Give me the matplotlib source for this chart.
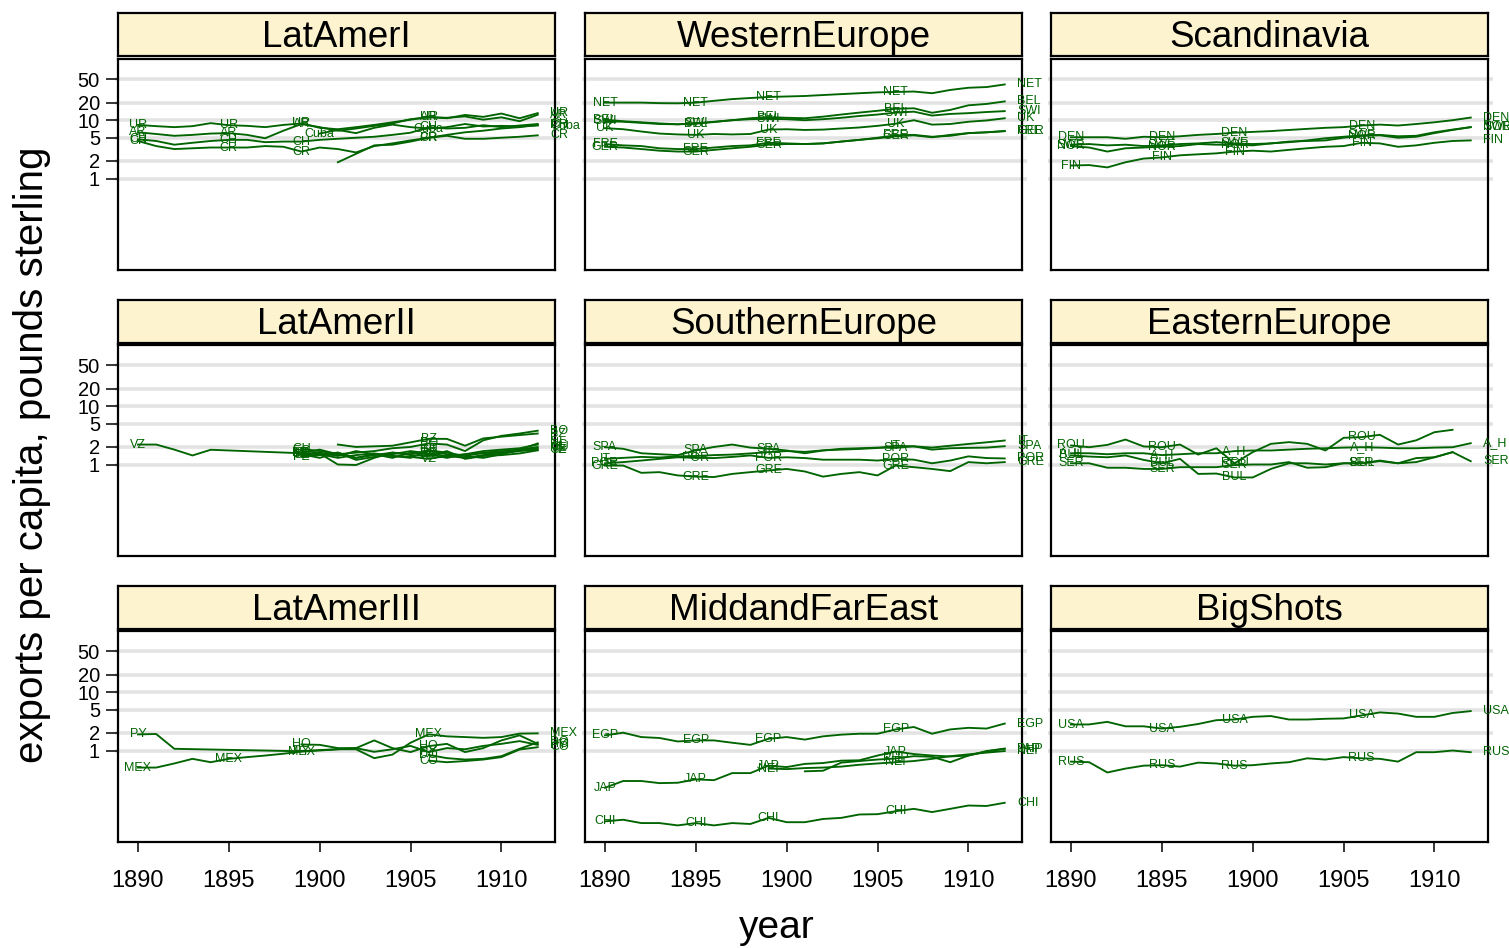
import numpy as np
import matplotlib
matplotlib.use("Agg")
import matplotlib.pyplot as plt
import matplotlib.transforms as mtransforms

plt.rcParams['font.family'] = ['Liberation Sans', 'DejaVu Sans']

YEARS = list(range(1890, 1913))
N = None

# ---------------- LatAmerI ----------------
UR = [8.3, 7.9, 7.6, 7.9, 8.9, 8.2, 8.0, 7.6, 8.3, 8.8, 7.4, 7.0, 7.6, 8.3, 9.2, 10.2, 11.3, 10.8, 12.3, 11.4, 13.0, 10.8, 13.2]
AR = [6.2, 5.8, 5.4, 5.6, 5.9, 6.0, 5.6, 4.9, 6.6, 8.6, 7.6, 6.6, 7.2, 8.0, 8.8, 10.4, 11.3, 11.0, 11.6, 10.2, 11.2, 9.6, 12.4]
CH = [4.7, 4.4, 3.8, 4.1, 4.4, 4.6, 4.6, 4.2, 4.3, 4.3, 4.6, 4.8, 5.0, 5.2, 5.6, 6.1, 7.6, 7.2, 7.4, 8.2, 7.6, 8.1, 8.6]
CR = [4.4, 3.6, 3.2, 3.3, 3.4, 3.4, 3.4, 3.6, 3.5, 2.9, 3.4, 3.2, 2.8, 3.6, 4.0, 4.5, 5.0, 5.4, 4.8, 4.8, 5.0, 5.2, 5.5]
Cuba = [N, N, N, N, N, N, N, N, N, N, 5.9, 6.8, 6.0, 7.4, 8.4, 7.6, 7.2, 7.6, 8.6, 7.8, 8.0, 7.8, 8.1]
PR = [N, N, N, N, N, N, N, N, N, N, N, 1.9, 2.65, 3.7, 3.8, 4.3, 5.0, 5.6, 6.2, 6.6, 7.2, 7.6, 8.3]

# ---------------- WesternEurope ----------------
NET = [20, 20, 20, 19.6, 19.5, 20, 21.5, 23, 24, 25, 25.5, 26, 27, 28, 29, 30, 30.5, 31, 29, 33, 36, 37, 41]
BEL = [10.2, 9.6, 9.2, 8.8, 8.5, 8.7, 9.3, 10, 10.8, 11.3, 11.0, 10.8, 11.5, 12.5, 13.5, 14.5, 15.7, 16, 13.4, 15, 18, 19, 21]
SWI = [9.6, 9.4, 9.0, 8.6, 8.5, 8.9, 9.4, 10.0, 10.4, 10.6, 10.4, 10.0, 10.4, 11.0, 11.8, 12.5, 13.5, 14.0, 12.0, 12.8, 13.2, 13.8, 14.3]
UK = [7.3, 7.0, 6.4, 5.9, 5.7, 5.6, 5.8, 5.7, 5.8, 6.9, 7.0, 6.8, 6.9, 7.2, 7.5, 8.0, 8.7, 10.0, 8.4, 8.6, 9.4, 9.9, 10.8]
FRE = [3.9, 3.7, 3.6, 3.3, 3.2, 3.2, 3.4, 3.6, 3.7, 4.1, 4.0, 3.9, 4.0, 4.3, 4.6, 5.0, 5.5, 5.6, 5.2, 5.4, 6.0, 6.2, 6.5]
GER = [3.5, 3.4, 3.2, 3.0, 2.9, 2.9, 3.1, 3.3, 3.5, 3.8, 3.9, 3.9, 4.0, 4.3, 4.6, 4.9, 5.3, 5.5, 5.1, 5.6, 6.0, 6.2, 6.5]

# ---------------- Scandinavia ----------------
DEN = [5.1, 5.1, 5.1, 4.8, 5.2, 5.1, 5.3, 5.6, 5.8, 6.1, 6.3, 6.5, 6.8, 7.1, 7.4, 7.6, 8.1, 8.4, 8.1, 8.6, 9.2, 10.0, 11.1]
SWE = [3.8, 3.9, 3.7, 3.8, 3.6, 3.7, 3.9, 4.0, 4.2, 4.0, 3.9, 4.0, 4.2, 4.5, 4.9, 5.2, 5.5, 5.6, 5.3, 5.4, 6.2, 6.9, 7.6]
NOR = [3.6, 3.4, 2.9, 3.3, 3.4, 3.5, 3.6, 3.9, 3.8, 3.8, 3.7, 4.0, 4.3, 4.4, 4.5, 5.0, 5.4, 5.5, 5.0, 5.2, 6.0, 6.8, 7.6]
FIN = [1.67, 1.7, 1.55, 1.9, 2.2, 2.3, 2.5, 2.6, 2.7, 2.9, 3.0, 2.9, 3.1, 3.3, 3.5, 3.6, 4.1, 4.0, 3.5, 3.7, 4.1, 4.4, 4.5]

# ---------------- LatAmerII ----------------
VZ = [2.2, 2.2, 1.8, 1.43, 1.79, N, N, N, N, 1.56, 1.5, 1.3, 1.45, 1.55, 1.4, 1.35, 1.25, 1.4, 1.3, 1.45, 1.55, 1.7, 1.8]
GU = [N, N, N, N, N, N, N, N, N, 1.86, 1.7, 1.5, 1.3, 1.45, 1.6, 1.5, 1.75, 1.6, 1.4, 1.6, 1.7, 1.8, 2.0]
PE = [N, N, N, N, N, N, N, N, N, 1.35, 1.45, 1.6, 1.2, 1.35, 1.5, 1.7, 1.55, 1.4, 1.5, 1.55, 1.6, 1.75, 1.9]
BO = [N, N, N, N, N, N, N, N, N, 1.6, 1.8, 1.5, 1.6, 1.7, 1.9, 2.0, 2.3, 2.2, 1.7, 2.6, 3.1, 3.4, 3.8]
BZ = [N, N, N, N, N, N, N, N, N, N, N, 2.2, 2.0, 2.05, 2.1, 2.4, 2.76, 2.75, 2.1, 2.8, 3.0, 3.2, 3.4]
NI = [N, N, N, N, N, N, N, N, N, 1.5, 1.3, 1.6, 1.3, 1.5, 1.4, 1.3, 1.74, 1.5, 1.4, 1.3, 1.5, 1.8, 2.3]
EC = [N, N, N, N, N, N, N, N, N, 1.7, 1.6, 1.4, 1.7, 1.5, 1.3, 1.6, 1.5, 1.3, 1.5, 1.7, 1.8, 1.9, 2.2]
SE = [N, N, N, N, N, N, N, N, N, 1.45, 1.55, 1.0, 0.98, 1.3, 1.6, 1.45, 1.4, 1.7, 1.25, 1.4, 1.45, 1.55, 1.75]

# ---------------- SouthernEurope ----------------
SPA = [1.98, 1.86, 1.56, 1.5, 1.45, 1.75, 2.0, 2.2, 1.95, 1.86, 1.74, 1.56, 1.74, 1.86, 1.9, 1.95, 1.93, 2.05, 1.8, 1.9, 1.93, 1.95, 2.06]
IT = [1.25, 1.3, 1.35, 1.32, 1.38, 1.4, 1.45, 1.48, 1.55, 1.63, 1.7, 1.65, 1.75, 1.8, 1.85, 1.92, 2.1, 2.05, 1.95, 2.1, 2.25, 2.4, 2.58]
POR = [1.05, 1.1, 1.17, 1.25, 1.33, 1.3, 1.29, 1.35, 1.43, 1.3, 1.33, 1.29, 1.21, 1.21, 1.21, 1.17, 1.25, 1.21, 1.05, 1.17, 1.38, 1.29, 1.27]
GRE = [0.96, 0.96, 0.72, 0.74, 0.65, 0.62, 0.61, 0.69, 0.74, 0.79, 0.84, 0.76, 0.62, 0.69, 0.74, 0.65, 0.96, 0.9, 0.84, 0.77, 1.1, 1.05, 1.1]

# ---------------- EasternEurope ----------------
ROU = [2.12, 1.98, 2.17, 2.68, 2.04, 1.98, 2.2, 1.48, 1.9, 1.05, 1.63, 2.26, 2.42, 2.26, 1.74, 2.87, 2.95, 3.23, 2.2, 2.6, 3.58, 3.94, N]
A_H = [1.56, 1.56, 1.5, 1.56, 1.56, 1.45, 1.5, 1.56, 1.56, 1.7, 1.74, 1.74, 1.8, 1.86, 1.9, 1.95, 1.98, 1.95, 1.9, 1.9, 1.95, 1.98, 2.32]
BUL = [1.43, 1.37, 1.33, 1.43, 1.2, 1.05, 1.25, 0.69, 0.7, 0.6, 0.6, 0.84, 1.05, 1.05, 1.0, 1.05, 1.05, 1.14, 1.05, 1.29, 1.33, 1.63, N]
SER = [1.05, 1.05, 0.88, 0.88, 0.84, 0.84, 0.9, 0.9, 0.9, 0.98, 1.0, 1.0, 1.1, 0.88, 0.9, 1.05, 1.05, 1.17, 1.05, 1.1, 1.33, 1.63, 1.14]

# ---------------- LatAmerIII ----------------
PY = [1.89, 1.92, 1.07, N, N, N, N, N, N, 0.97, 1.02, 1.05, 1.1, 0.95, 1.05, 1.2, 0.94, 1.1, 1.05, 1.2, 1.3, 1.45, 1.25]
MEX = [0.51, 0.51, 0.6, 0.72, 0.63, 0.72, 0.77, 0.82, 0.88, 0.96, 1.0, 1.05, 1.05, 0.74, 0.85, 1.36, 1.89, 1.75, 1.7, 1.65, 1.7, 1.95, 1.97]
HO = [N, N, N, N, N, N, N, N, N, 1.27, 1.25, 1.1, 1.1, 1.49, 1.1, 0.94, 1.19, 1.3, 0.94, 1.1, 1.49, 1.82, 1.3]
CO = [N, N, N, N, N, N, N, N, N, N, N, N, N, N, N, N, 0.67, 0.63, 0.66, 0.7, 0.77, 1.04, 1.14]
DO = [N, N, N, N, N, N, N, N, N, N, N, N, N, N, N, N, 0.84, 0.74, 0.7, 0.72, 0.8, 1.07, 1.38]

# ---------------- MiddandFarEast ----------------
EGP = [1.82, 2.02, 1.7, 1.64, 1.43, 1.49, 1.49, 1.36, 1.25, 1.59, 1.7, 1.54, 1.75, 1.87, 1.94, 1.94, 2.3, 2.53, 1.94, 2.3, 2.45, 2.38, 2.9]
JAP = [0.23, 0.30, 0.30, 0.276, 0.28, 0.32, 0.31, 0.41, 0.41, 0.55, 0.52, 0.59, 0.61, 0.67, 0.68, 0.82, 0.96, 0.87, 0.82, 0.79, 0.82, 0.96, 1.07]
NEI = [N, N, N, N, N, N, N, N, N, 0.49, 0.48, 0.5, 0.51, 0.53, 0.57, 0.6, 0.63, 0.66, 0.72, 0.8, 0.86, 0.92, 0.98]
PHP = [N, N, N, N, N, N, N, N, N, N, N, 0.44, 0.45, 0.62, 0.66, 0.7, 0.73, 0.8, 0.78, 0.63, 0.82, 0.98, 1.08]
CHI = [0.061, 0.065, 0.057, 0.057, 0.052, 0.057, 0.052, 0.057, 0.055, 0.070, 0.059, 0.059, 0.067, 0.070, 0.080, 0.081, 0.091, 0.10, 0.088, 0.10, 0.114, 0.112, 0.127]

# ---------------- BigShots ----------------
USA = [2.79, 2.8, 3.1, 2.6, 2.6, 2.38, 2.55, 2.85, 3.31, 3.4, 3.78, 3.9, 3.4, 3.4, 3.5, 3.55, 4.0, 4.5, 4.3, 3.78, 3.78, 4.4, 4.74]
RUS = [0.645, 0.63, 0.42, 0.49, 0.55, 0.56, 0.53, 0.62, 0.6, 0.55, 0.56, 0.6, 0.63, 0.735, 0.7, 0.77, 0.735, 0.72, 0.645, 0.935, 0.935, 1.0, 0.935]

PANELS = [
    ("LatAmerI", [("UR", UR), ("AR", AR), ("CH", CH), ("CR", CR), ("Cuba", Cuba), ("PR", PR)]),
    ("WesternEurope", [("NET", NET), ("BEL", BEL), ("SWI", SWI), ("UK", UK), ("FRE", FRE), ("GER", GER)]),
    ("Scandinavia", [("DEN", DEN), ("SWE", SWE), ("NOR", NOR), ("FIN", FIN)]),
    ("LatAmerII", [("VZ", VZ), ("GU", GU), ("PE", PE), ("BO", BO), ("BZ", BZ), ("NI", NI), ("EC", EC), ("SE", SE)]),
    ("SouthernEurope", [("SPA", SPA), ("IT", IT), ("POR", POR), ("GRE", GRE)]),
    ("EasternEurope", [("ROU", ROU), ("A_H", A_H), ("BUL", BUL), ("SER", SER)]),
    ("LatAmerIII", [("PY", PY), ("MEX", MEX), ("HO", HO), ("CO", CO), ("DO", DO)]),
    ("MiddandFarEast", [("EGP", EGP), ("JAP", JAP), ("NEI", NEI), ("PHP", PHP), ("CHI", CHI)]),
    ("BigShots", [("USA", USA), ("RUS", RUS)]),
]

Y_TICKS = [1, 2, 5, 10, 20, 50]
Y_TICKLABELS = ["1", "2", "5", "10", "20", "50"]
X_TICKS = [1890, 1895, 1900, 1905, 1910]
LABEL_ANCHORS = [1890, 1895, 1899, 1906]

W, H = 1509, 948
fig = plt.figure(figsize=(W / 100, H / 100), dpi=100)
fig.patch.set_facecolor("white")

col_left = [118, 585, 1051]
panel_w = 437
row_top = [59, 345, 631]
panel_h = 211
strip_top = [13, 300, 586]
strip_h = 43

LINE_COL = "#006400"
GRID_COL = "#E3E3E3"


def fax(l, t, w, h):
    return fig.add_axes([l / W, 1 - (t + h) / H, w / W, h / H])


for idx, (title, series) in enumerate(PANELS):
    r, c = divmod(idx, 3)
    ax = fax(col_left[c], row_top[r], panel_w, panel_h)
    ax.set_yscale("log")
    ax.set_xlim(1888.9, 1912.95)
    ax.set_ylim(0.027, 112)

    trans = mtransforms.blended_transform_factory(ax.transAxes, ax.transData)
    for v in Y_TICKS:
        ax.plot([-0.006, 1.012], [v, v], transform=trans, color=GRID_COL, lw=2.6,
                zorder=0, clip_on=False, solid_capstyle="butt")

    for name, vals in series:
        xs = [y for y, v in zip(YEARS, vals) if v is not None]
        ys = [v for v in vals if v is not None]
        ax.plot(xs, ys, color=LINE_COL, lw=1.35, zorder=3)
        d = dict(zip(xs, ys))
        for a in LABEL_ANCHORS:
            yr = a if a in d else (a + 1 if (a + 1) in d and a != 1890 else None)
            if yr is None:
                continue
            ax.text(yr, d[yr], name, color=LINE_COL, fontsize=9, ha="center",
                    va="center", zorder=4, clip_on=False)
        if 1912 in d:
            ax.text(1912.7, d[1912], name, color=LINE_COL, fontsize=9, ha="left",
                    va="center", zorder=4, clip_on=False)

    for sp in ax.spines.values():
        sp.set_linewidth(1.6)
        sp.set_color("black")

    ax.minorticks_off()
    if c == 0:
        ax.set_yticks(Y_TICKS)
        ax.set_yticklabels(Y_TICKLABELS, fontsize=14.5)
        ax.tick_params(axis="y", length=9, width=1.1, pad=4)
    else:
        ax.set_yticks([])
    if r == 2:
        ax.set_xticks(X_TICKS)
        ax.set_xticklabels([str(x) for x in X_TICKS], fontsize=17)
        ax.tick_params(axis="x", length=7, width=1.1, pad=13)
    else:
        ax.set_xticks([])

    sax = fax(col_left[c], strip_top[r], panel_w, strip_h)
    sax.set_facecolor("#FDF4CF")
    sax.set_xticks([])
    sax.set_yticks([])
    for sp in sax.spines.values():
        sp.set_linewidth(1.6)
        sp.set_color("black")
    sax.text(0.5, 0.52, title, ha="center", va="center_baseline", fontsize=26.5,
             transform=sax.transAxes)

fig.text(32 / W, 1 - 455 / H, "exports per capita, pounds sterling", rotation=90,
         ha="center", va="center", fontsize=29)
fig.text(777 / W, 1 - 928 / H, "year", ha="center", va="center", fontsize=28)

fig.savefig("out.png", dpi=100)
